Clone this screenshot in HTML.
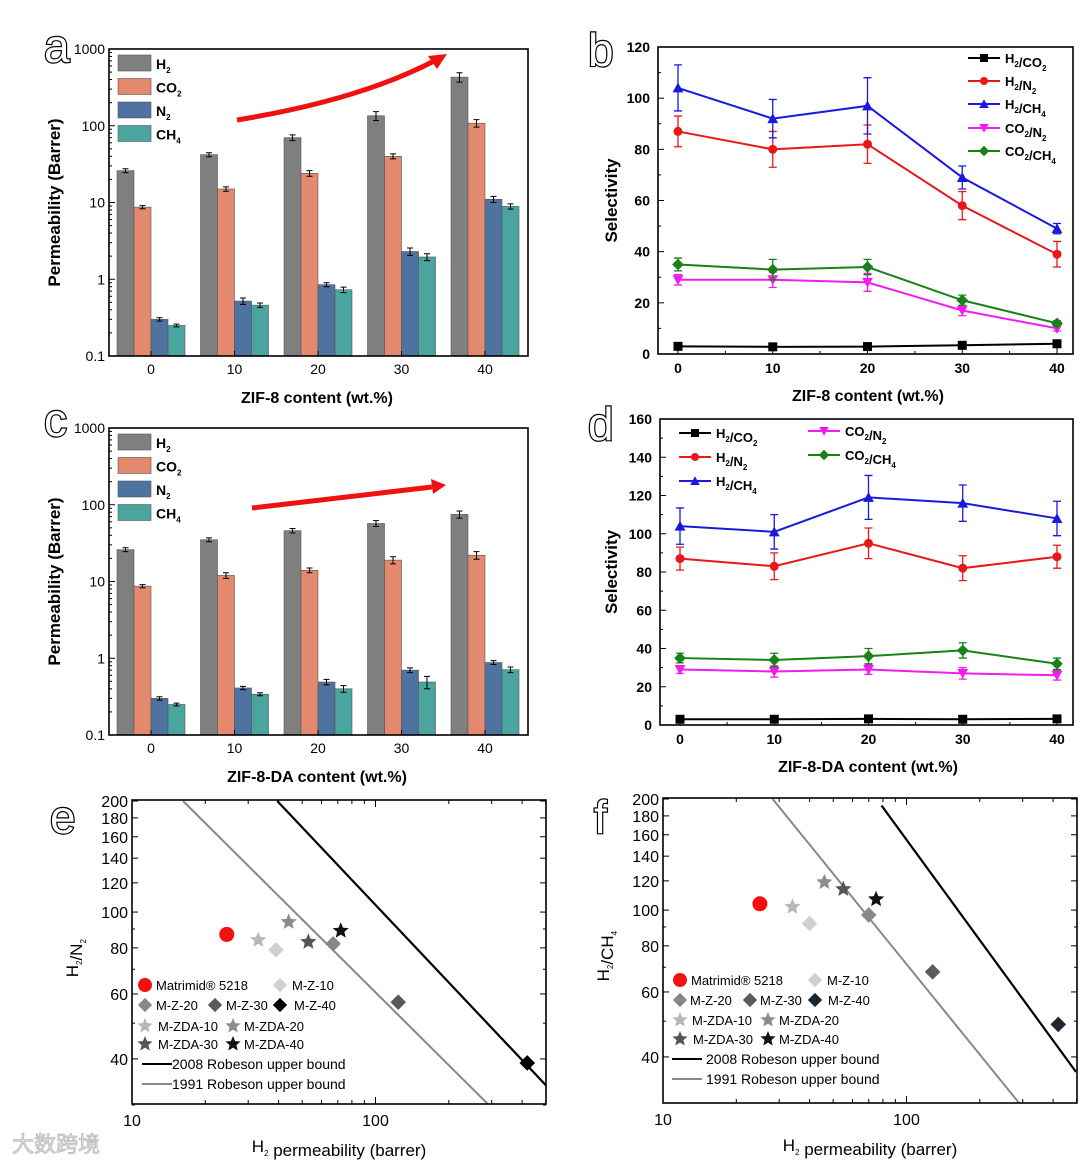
<!DOCTYPE html>
<html><head><meta charset="utf-8"><style>
body{margin:0;background:#fff}
svg{display:block;font-family:"Liberation Sans","Noto Sans CJK SC",sans-serif}
.b{font-weight:bold}
</style></head><body>
<svg id="s" width="1080" height="1165" viewBox="0 0 1080 1165"></svg>
<script>
// ---------- data ----------
const contents=[0,10,20,30,40];
const aH2=[26,42,70,135,430], aCO2=[8.7,15,24,40,108], aN2=[0.3,0.52,0.85,2.3,11], aCH4=[0.25,0.46,0.73,1.95,8.9];
const aH2e=[1.5,2.5,6,18,60], aCO2e=[0.4,1,2,3,12], aN2e=[0.015,0.05,0.05,0.25,1], aCH4e=[0.01,0.03,0.06,0.2,0.7];
const cH2=[26,35,46,57,75], cCO2=[8.7,12,14,19,22], cN2=[0.3,0.41,0.49,0.7,0.88], cCH4=[0.25,0.34,0.4,0.49,0.71];
const cH2e=[1.5,2,3,5,8], cCO2e=[0.4,1,1,2,2.5], cN2e=[0.015,0.02,0.04,0.05,0.05], cCH4e=[0.01,0.015,0.04,0.09,0.06];
const bH2CO2=[3,2.8,2.9,3.4,4], bH2N2=[87,80,82,58,39], bH2CH4=[104,92,97,69,49], bCO2N2=[29,29,28,17,10], bCO2CH4=[35,33,34,21,12];
const bH2CO2e=[0.3,0.3,0.3,0.3,0.3], bH2N2e=[6,7,7.5,5.5,5], bH2CH4e=[9,7.5,11,4.5,2], bCO2N2e=[2,3,3.5,2,1], bCO2CH4e=[2.5,4,3,2,1];
const dH2CO2=[3,3,3.2,3,3.2], dH2N2=[87,83,95,82,88], dH2CH4=[104,101,119,116,108], dCO2N2=[29,28,29,27,26], dCO2CH4=[35,34,36,39,32];
const dH2CO2e=[0.3,0.3,0.3,0.3,0.3], dH2N2e=[6,7,8,6.5,6], dH2CH4e=[9.5,9,11.5,9.5,9], dCO2N2e=[2,3,2.5,3,2.5], dCO2CH4e=[2.5,3.5,4,4,3];
const sampleNames=["Matrimid® 5218","M-ZDA-10","M-Z-10","M-ZDA-20","M-ZDA-30","M-Z-20","M-ZDA-40","M-Z-30","M-Z-40"];
const eX=[24.5,33,39,44,53,67,72,124,420], eY=[87,84,79,94,83,82,89,57,39];
const fX=[25,34,40,46,55,70,75,128,420], fY=[104,102,92,119,114,97,107,68,49];
const e2008X=[39.5,506], e2008Y=[200,33.7], e1991X=[16.2,292], e1991Y=[200,30];
const f2008X=[79,497], f2008Y=[192,36.4], f1991X=[28.2,290], f1991Y=[200,30];
const logTicks=[0.1,1,10,100,1000], selTicksB=[0,20,40,60,80,100,120], selTicksD=[0,20,40,60,80,100,120,140,160];
const robY=[40,60,80,100,120,140,160,180,200], robX=[10,100];

// ---------- helpers ----------
const S=document.getElementById('s'),NS='http://www.w3.org/2000/svg';
function el(t,a,p){const e=document.createElementNS(NS,t);for(const k in a)e.setAttribute(k,a[k]);(p||S).appendChild(e);return e;}
function tx(x,y,s,a,p){const e=el('text',Object.assign({x:x,y:y},a||{}),p);e.innerHTML=s;return e;}
function line(x1,y1,x2,y2,st,w,p){return el('line',{x1:x1,y1:y1,x2:x2,y2:y2,stroke:st||'#000','stroke-width':w||1},p);}
function marker(g,type,x,y,c,r){
  let m;
  if(type==='sq')m=el('rect',{x:x-r,y:y-r,width:2*r,height:2*r,fill:c},g);
  else if(type==='ci')m=el('circle',{cx:x,cy:y,r:r,fill:c},g);
  else if(type==='tu')m=el('polygon',{points:`${x},${y-r*1.2} ${x-r*1.2},${y+r} ${x+r*1.2},${y+r}`,fill:c},g);
  else if(type==='td')m=el('polygon',{points:`${x},${y+r*1.2} ${x-r*1.2},${y-r} ${x+r*1.2},${y-r}`,fill:c},g);
  else if(type==='di')m=el('polygon',{points:`${x},${y-r*1.3} ${x+r*1.3},${y} ${x},${y+r*1.3} ${x-r*1.3},${y}`,fill:c},g);
  else {let p=[];for(let i=0;i<10;i++){const a=-Math.PI/2+i*Math.PI/5,rr=i%2?r*0.45:r;p.push((x+rr*Math.cos(a)).toFixed(1)+','+(y+rr*Math.sin(a)).toFixed(1));}m=el('polygon',{points:p.join(' '),fill:c},g);}
  return m;
}
function panelLetter(x,y,s,sz){
  const t=tx(x,y,s,{'font-size':sz||46,fill:'#fff',stroke:'#000','stroke-width':2.4,'paint-order':'stroke'});
  
  
}
function sub(s){return '<tspan font-size="8" dy="4">'+s+'</tspan><tspan dy="-4"></tspan>';}

// ---------- bar panels ----------
function barPanel(id,top,vals,errs,xlabel){
  const L=109,R=528,T=top,B=top+307;
  const y=v=>B-(Math.log10(v)+1)*(B-T)/4;
  const x=c=>151+c/10*83.5;
  const g=el('g',{});
  
  
  const cols=['#7f7f7f','#e3896d','#4f73a0','#4aa59f'];
  const names=['h2','co2','n2','ch4'];
  for(let s=0;s<4;s++)for(let i=0;i<5;i++){
    const v=vals[s][i],xx=x(contents[i])-34+s*17;
    const r=el('rect',{x:xx,y:y(v),width:17,height:B-y(v),fill:cols[s],stroke:'#555','stroke-width':0.6},g);
    
    
    const e=errs[s][i],cx=xx+8.5,lo=y(Math.max(v-e,0.101)),hi=y(v+e);
    el('path',{d:`M${cx},${hi}V${lo}M${cx-3},${hi}h6M${cx-3},${lo}h6`,stroke:'#000','stroke-width':1,fill:'none'},g);
  }
  el('rect',{x:L,y:T,width:R-L,height:B-T,fill:'none',stroke:'#000','stroke-width':1.6},g);
  logTicks.forEach(v=>{
    line(L,y(v),L+6,y(v),'#000',1,g);
    const t=tx(L-4,y(v)+5,String(v),{'font-size':14,'text-anchor':'end'},g);
    
    
    if(v<1000)for(let k=2;k<10;k++)line(L,y(v*k),L+3,y(v*k),'#000',1,g);
  });
  contents.forEach(c=>{
    line(x(c),B,x(c),B-5,'#000',1,g);
    const t=tx(x(c),B+18,String(c),{'font-size':14,'text-anchor':'middle'},g);
    
    
  });
  let t=tx(317,B+47,xlabel,{'font-size':16,'text-anchor':'middle',class:'b'},g);
  
  
  t=tx(0,0,'Permeability (Barrer)',{'font-size':17,'text-anchor':'middle',class:'b',transform:`translate(60,${(T+B)/2}) rotate(-90)`},g);
  
  
  const lab=['H'+sub(2),'CO'+sub(2),'N'+sub(2),'CH'+sub(4)];
  for(let s=0;s<4;s++){
    const yy=T+6+s*23.5;
    const r=el('rect',{x:118,y:yy,width:33,height:16,fill:cols[s],stroke:'#555','stroke-width':0.6},g);
    
    
    const tt=tx(156,yy+14,lab[s],{'font-size':14,class:'b'},g);
    
    
  }
  return g;
}

// ---------- selectivity panels ----------
function selPanel(id,L,R,T,B,ymax,ticks,series,errs,xlabel,legendPos){
  const x0=L+20,x40=R-16;
  const x=c=>x0+c/40*(x40-x0);
  const y=v=>B-v/ymax*(B-T);
  const g=el('g',{});
  
  
  const cols=['#000','#e8181a','#1a1adf','#f01cf0','#178217'];
  const mk=['sq','ci','tu','td','di'];
  const names=['h2-co2','h2-n2','h2-ch4','co2-n2','co2-ch4'];
  for(let s=0;s<5;s++){
    const pts=contents.map((c,i)=>x(c)+','+y(series[s][i])).join(' ');
    const pl=el('polyline',{points:pts,fill:'none',stroke:cols[s],'stroke-width':2},g);
    
    
    contents.forEach((c,i)=>{
      const v=series[s][i],e=errs[s][i],cx=x(c);
      el('path',{d:`M${cx},${y(v+e)}V${y(v-e)}M${cx-4},${y(v+e)}h8M${cx-4},${y(v-e)}h8`,stroke:cols[s],'stroke-width':1.3,fill:'none'},g);
      const m=marker(g,mk[s],cx,y(v),cols[s],4.5);
      
      
    });
  }
  el('rect',{x:L,y:T,width:R-L,height:B-T,fill:'none',stroke:'#000','stroke-width':1.6},g);
  const step=ticks[1]-ticks[0];
  ticks.forEach(v=>{
    line(L,y(v),L+6,y(v),'#000',1,g);
    if(v+step/2<ymax+0.1)line(L,y(v+step/2),L+3,y(v+step/2),'#000',1,g);
    const t=tx(L-8,y(v)+5,String(v),{'font-size':14,'text-anchor':'end',class:'b'},g);
    
    
  });
  contents.forEach(c=>{
    line(x(c),B,x(c),B-6,'#000',1,g);
    if(c<40)line(x(c+5),B,x(c+5),B-3,'#000',1,g);
    const t=tx(x(c),B+19,String(c),{'font-size':14,'text-anchor':'middle',class:'b'},g);
    
    
  });
  let t=tx(868,B+47,xlabel,{'font-size':16,'text-anchor':'middle',class:'b'},g);
  
  
  t=tx(0,0,'Selectivity',{'font-size':17,'text-anchor':'middle',class:'b',transform:`translate(617,${(T+B)/2}) rotate(-90)`},g);
  
  
  const lab=['H'+sub(2)+'/CO'+sub(2),'H'+sub(2)+'/N'+sub(2),'H'+sub(2)+'/CH'+sub(4),'CO'+sub(2)+'/N'+sub(2),'CO'+sub(2)+'/CH'+sub(4)];
  for(let s=0;s<5;s++){
    const p=legendPos[s];
    line(p[0],p[1],p[0]+32,p[1],cols[s],2,g);
    marker(g,mk[s],p[0]+16,p[1],cols[s],4);
    const tt=tx(p[0]+37,p[1]+5,lab[s],{'font-size':13,class:'b'},g);
    
    
  }
}

// ---------- robeson panels ----------
function robPanel(id,L,R,T,B,xs,ys,l08x,l08y,l91x,l91y,ylabel,leg,mz40col){
  const ppd=243.5;
  const x=v=>L+Math.log10(v/10)*ppd;
  const yTop200=T+1, ppdY=369;
  const y=v=>yTop200+Math.log10(200/v)*ppdY;
  const g=el('g',{});
  
  
  const defs=el('clipPath',{id:'clip-'+id},g);
  el('rect',{x:L,y:T,width:R-L,height:B-T},defs);
  const lg=el('g',{'clip-path':'url(#clip-'+id+')'},g);
  let ln=line(x(l91x[0]),y(l91y[0]),x(l91x[1]),y(l91y[1]),'#888',2,lg);
  
  
  ln=line(x(l08x[0]),y(l08y[0]),x(l08x[1]),y(l08y[1]),'#000',2.2,lg);
  
  
  const st=[['ci','#f21010',7.5],['st','#b8b8b8',8.5],['di','#d0d0d0',6],['st','#8c8c8c',8.5],['st','#555',8.5],['di','#888',6],['st','#111',8.5],['di','#5a5a5a',6],['di',mz40col,6]];
  for(let i=0;i<xs.length;i++){
    const m=marker(g,st[i][0],x(xs[i]),y(ys[i]),st[i][1],st[i][2]);
    
    
  }
  el('rect',{x:L,y:T,width:R-L,height:B-T,fill:'none',stroke:'#000','stroke-width':1.6},g);
  robY.forEach(v=>{
    line(L,y(v),L+6,y(v),'#000',1,g);line(R,y(v),R-6,y(v),'#000',1,g);
    const t=tx(L-4,y(v)+6,String(v),{'font-size':16,'text-anchor':'end'},g);
    
    
  });
  [30,50,70,90].forEach(v=>{line(L,y(v),L+3,y(v),'#000',1,g);line(R,y(v),R-3,y(v),'#000',1,g);});
  robX.forEach(v=>{
    const t=tx(x(v),B+22,String(v),{'font-size':16,'text-anchor':'middle'},g);
    
    
  });
  for(let d=10;d<=100;d*=10)for(let k=1;k<10;k++){const v=d*k;const xx=x(v);if(xx>=L&&xx<=R){const len=k===1?7:4;line(xx,B,xx,B-len,'#000',1,g);line(xx,T,xx,T+len,'#000',1,g);}}
  let t=tx((L+R)/2,B+48,'H'+sub(2)+' permeability (barrer)',{'font-size':17,'text-anchor':'middle'},g);
  
  
  t=tx(0,0,ylabel,{'font-size':17,'text-anchor':'middle',transform:`translate(${L-54},${y(75)}) rotate(-90)`},g);
  
  
  // legend
  const order=[0,2,5,7,8,1,3,4,6];
  order.forEach((i,k)=>{
    const p=leg[k];
    marker(g,st[i][0],p[0],p[1],st[i][1],st[i][0]==='st'?8:(st[i][0]==='ci'?7:5.5));
    const tt=tx(p[2],p[1]+5,sampleNames[i],{'font-size':13},g);
    
    
  });
  const lx=leg[9];
  line(lx[0],lx[1],lx[0]+30,lx[1],'#000',2,g);
  t=tx(lx[2],lx[1]+5,'2008 Robeson upper bound',{'font-size':14},g);
  
  
  line(lx[0],lx[1]+20,lx[0]+30,lx[1]+20,'#888',2,g);
  t=tx(lx[2],lx[1]+25,'1991 Robeson upper bound',{'font-size':14},g);
  
  
}

// ---------- draw ----------
barPanel('a',49,[aH2,aCO2,aN2,aCH4],[aH2e,aCO2e,aN2e,aCH4e],'ZIF-8 content (wt.%)');
barPanel('c',428,[cH2,cCO2,cN2,cCH4],[cH2e,cCO2e,cN2e,cCH4e],'ZIF-8-DA content (wt.%)');
// arrows
let ar=el('path',{d:'M237,120 Q360,100 436,60',stroke:'#f01010','stroke-width':5,fill:'none'});


ar=el('polygon',{points:'447,54 428,56 437,69',fill:'#f01010'});


ar=el('path',{d:'M252,508 L432,487',stroke:'#f01010','stroke-width':5,fill:'none'});


ar=el('polygon',{points:'446,485 431,479 433,494',fill:'#f01010'});



selPanel('b',658,1073,47,354,120,selTicksB,[bH2CO2,bH2N2,bH2CH4,bCO2N2,bCO2CH4],[bH2CO2e,bH2N2e,bH2CH4e,bCO2N2e,bCO2CH4e],'ZIF-8 content (wt.%)',
  [[968,58],[968,81],[968,104],[968,128],[968,151]]);
selPanel('d',660,1073,419,725,160,selTicksD,[dH2CO2,dH2N2,dH2CH4,dCO2N2,dCO2CH4],[dH2CO2e,dH2N2e,dH2CH4e,dCO2N2e,dCO2CH4e],'ZIF-8-DA content (wt.%)',
  [[679,433],[679,457],[679,481],[808,431],[808,455]]);

robPanel('e',132,546,800,1104,eX,eY,e2008X,e2008Y,e1991X,e1991Y,'H'+sub(2)+'/N'+sub(2),
  [[145,985,156],[280,985,292],[145,1005,156],[215,1005,226],[280,1005,294],[145,1026,158],[233,1026,244],[145,1044,158],[233,1044,244],[142,1064,172]],'#000');
robPanel('f',663,1077,798,1103,fX,fY,f2008X,f2008Y,f1991X,f1991Y,'H'+sub(2)+'/CH'+sub(4),
  [[680,980,691],[815,980,827],[680,1000,690],[750,1000,760],[815,1000,828],[680,1020,692],[768,1020,779],[680,1039,693],[768,1039,779],[672,1059,706]],'#1c2630');

panelLetter(44,62,'a');
panelLetter(44,436,'c');
panelLetter(588,66,'b');
panelLetter(588,440,'d');
panelLetter(50,833,'e');
panelLetter(594,833,'f');
const wm=tx(12,1152,'大数跨境',{'font-size':22,fill:'#ddd',stroke:'#bbb','stroke-width':0.8});


</script>
</body></html>
